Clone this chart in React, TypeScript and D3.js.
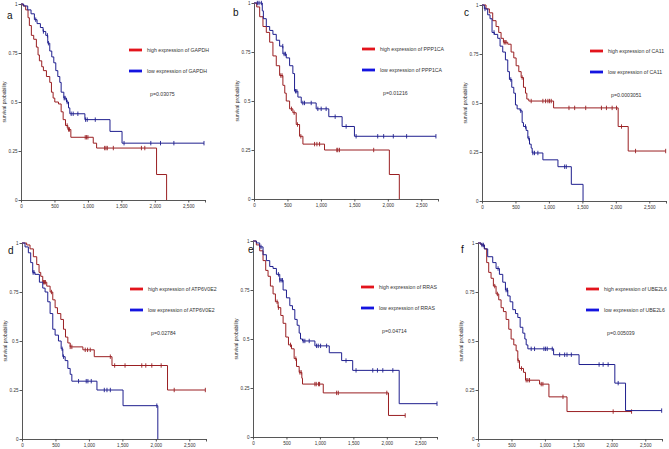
import React, { useEffect, useRef } from "react";
import * as d3 from "d3";

// Kaplan-Meier steps: [day, survival after the drop]
const gapdhHigh = [[30, 0.99], [70, 0.97], [105, 0.93], [125, 0.89], [155, 0.84], [190, 0.82], [230, 0.78], [255, 0.74], [275, 0.71], [310, 0.68], [335, 0.66], [380, 0.63], [430, 0.6], [455, 0.55], [480, 0.52], [505, 0.5], [560, 0.49], [600, 0.45], [630, 0.41], [665, 0.38], [700, 0.36], [745, 0.32], [1080, 0.29], [1130, 0.265], [2026, 0.13], [2176, 0]];
const gapdhHighCensor = [690, 710, 725, 960, 980, 1000, 1250, 1270, 1290, 1380, 1800, 1850];
const gapdhLow = [[40, 0.99], [100, 0.97], [150, 0.95], [200, 0.92], [240, 0.9], [290, 0.88], [330, 0.86], [370, 0.84], [400, 0.8], [430, 0.76], [460, 0.73], [490, 0.7], [520, 0.66], [550, 0.63], [580, 0.6], [600, 0.55], [640, 0.52], [680, 0.5], [710, 0.47], [730, 0.44], [955, 0.41], [1330, 0.35], [1510, 0.29]];
const gapdhLowCensor = [220, 335, 395, 410, 645, 660, 690, 750, 780, 850, 965, 990, 1110, 1540, 1940, 2085, 2285, 2735];

const ppp1caHigh = [[40, 0.98], [85, 0.93], [134, 0.88], [184, 0.85], [234, 0.8], [283, 0.73], [333, 0.68], [383, 0.63], [432, 0.58], [460, 0.54], [482, 0.5], [532, 0.46], [581, 0.44], [631, 0.38], [681, 0.32], [731, 0.28], [1054, 0.25], [2023, 0.125], [2172, 0]];
const ppp1caHighCensor = [400, 420, 560, 600, 650, 700, 905, 940, 980, 1238, 1252, 1277, 1789];
const ppp1caLow = [[124, 0.96], [140, 0.92], [184, 0.88], [234, 0.86], [283, 0.84], [333, 0.81], [383, 0.78], [432, 0.74], [482, 0.72], [532, 0.68], [581, 0.64], [606, 0.55], [656, 0.52], [706, 0.49], [929, 0.46], [1118, 0.42], [1317, 0.37], [1501, 0.32]];
const ppp1caLowCensor = [50, 75, 110, 430, 450, 470, 620, 640, 730, 755, 855, 954, 1004, 1078, 1213, 1377, 1526, 1849, 1938, 2082, 2281, 2719];

const ca11High = [[60, 0.98], [110, 0.96], [160, 0.92], [210, 0.89], [250, 0.86], [285, 0.83], [320, 0.81], [385, 0.8], [435, 0.76], [475, 0.73], [510, 0.69], [550, 0.66], [585, 0.63], [620, 0.58], [650, 0.55], [670, 0.52], [700, 0.51], [1070, 0.475], [2035, 0.38], [2185, 0.255]];
const ca11HighCensor = [330, 345, 360, 600, 735, 910, 950, 985, 1010, 1035, 1300, 1385, 1550, 1785, 1860, 1945, 2010, 2085, 2295, 2745];
const ca11Low = [[35, 0.98], [85, 0.95], [120, 0.93], [150, 0.86], [185, 0.85], [235, 0.83], [270, 0.79], [310, 0.76], [350, 0.72], [385, 0.66], [410, 0.62], [445, 0.58], [475, 0.55], [500, 0.49], [525, 0.47], [570, 0.46], [600, 0.4], [620, 0.38], [660, 0.36], [685, 0.32], [710, 0.29], [735, 0.27], [750, 0.245], [910, 0.21], [1135, 0.175], [1335, 0.085], [1510, 0]];
const ca11LowCensor = [45, 180, 430, 580, 650, 700, 760, 785, 835, 1235, 1260];

const atpHigh = [[70, 0.99], [120, 0.97], [170, 0.93], [220, 0.89], [255, 0.85], [280, 0.83], [310, 0.8], [370, 0.78], [420, 0.75], [460, 0.71], [495, 0.67], [530, 0.64], [580, 0.61], [620, 0.56], [650, 0.52], [685, 0.49], [720, 0.47], [910, 0.455], [1080, 0.42], [1345, 0.375], [2175, 0.25]];
const atpHighCensor = [320, 335, 350, 440, 720, 745, 945, 980, 1020, 1320, 1385, 1540, 1790, 1850, 1940, 2080, 2275, 2740];
const atpLow = [[45, 0.98], [95, 0.95], [130, 0.9], [160, 0.85], [195, 0.84], [260, 0.8], [310, 0.77], [345, 0.75], [385, 0.7], [420, 0.64], [460, 0.56], [495, 0.53], [545, 0.5], [585, 0.46], [610, 0.42], [645, 0.4], [685, 0.36], [720, 0.33], [745, 0.295], [1120, 0.25], [1510, 0.17], [2030, 0]];
const atpLowCensor = [165, 180, 600, 620, 845, 960, 985, 1035, 1230, 1270, 1320, 2015];

const rrasHigh = [[50, 0.98], [100, 0.95], [150, 0.9], [190, 0.85], [225, 0.82], [260, 0.77], [300, 0.73], [335, 0.69], [375, 0.66], [415, 0.62], [450, 0.58], [490, 0.51], [530, 0.47], [575, 0.45], [615, 0.4], [650, 0.36], [690, 0.33], [730, 0.3], [740, 0.27], [1050, 0.225], [2025, 0.11]];
const rrasHighCensor = [360, 380, 560, 640, 700, 720, 925, 945, 980, 995, 1250, 1275, 2000, 2275];
const rrasLow = [[50, 0.99], [100, 0.97], [150, 0.93], [200, 0.9], [250, 0.87], [300, 0.86], [350, 0.83], [400, 0.8], [450, 0.75], [500, 0.71], [550, 0.67], [590, 0.65], [625, 0.6], [660, 0.57], [690, 0.53], [710, 0.5], [740, 0.49], [925, 0.465], [1140, 0.43], [1325, 0.39], [1490, 0.34], [2185, 0.17]];
const rrasLowCensor = [120, 380, 400, 420, 440, 750, 775, 840, 950, 975, 1010, 1100, 1390, 1540, 1790, 1860, 1940, 2090, 2750];

const ube2l6High = [[45, 0.99], [95, 0.97], [130, 0.9], [160, 0.85], [195, 0.82], [230, 0.78], [270, 0.74], [310, 0.71], [345, 0.67], [380, 0.65], [420, 0.61], [460, 0.56], [495, 0.51], [535, 0.48], [570, 0.45], [595, 0.4], [620, 0.36], [680, 0.34], [710, 0.3], [920, 0.28], [1060, 0.215], [1330, 0.14]];
const ube2l6HighCensor = [250, 290, 600, 650, 720, 745, 770, 945, 970, 1270, 2020, 2295];
const ube2l6Low = [[45, 0.99], [95, 0.97], [145, 0.93], [220, 0.9], [270, 0.87], [320, 0.84], [370, 0.8], [410, 0.76], [445, 0.73], [480, 0.7], [520, 0.66], [560, 0.64], [595, 0.62], [630, 0.57], [670, 0.54], [700, 0.51], [720, 0.48], [745, 0.46], [1130, 0.43], [1510, 0.38], [2045, 0.285], [2205, 0.145]];
const ube2l6LowCensor = [60, 80, 300, 420, 440, 795, 845, 985, 1010, 1035, 1110, 1220, 1295, 1330, 1395, 1810, 1870, 1945, 2095, 2745];

const letters = ["a", "b", "c", "d", "e", "f"];
const genes = ["GAPDH", "PPP1CA", "CA11", "ATP6V0E2", "RRAS", "UBE2L6"];
const pValues = ["p=0.03075", "p=0.01216", "p=0.0003051", "p=0.02784", "p=0.04714", "p=0.005039"];
const xTicks = [0, 500, 1000, 1500, 2000, 2500, 2750];
const yTicks = [0, 0.25, 0.5, 0.75, 1];

const curves = [
  [gapdhHigh, gapdhHighCensor, gapdhLow, gapdhLowCensor],
  [ppp1caHigh, ppp1caHighCensor, ppp1caLow, ppp1caLowCensor],
  [ca11High, ca11HighCensor, ca11Low, ca11LowCensor],
  [atpHigh, atpHighCensor, atpLow, atpLowCensor],
  [rrasHigh, rrasHighCensor, rrasLow, rrasLowCensor],
  [ube2l6High, ube2l6HighCensor, ube2l6Low, ube2l6LowCensor],
];

// where each panel's y axis top sits, and the letter offset
const origins = [
  { x: 21, y: 4, lx: -14, ly: 15 },
  { x: 254, y: 3, lx: -21, ly: 13 },
  { x: 482, y: 5, lx: -18, ly: 11 },
  { x: 22, y: 243, lx: -14, ly: 11 },
  { x: 253, y: 241, lx: -5, ly: 12 },
  { x: 478, y: 243, lx: -17, ly: 10 },
];

const W = 184;
const H = 196;
const FONT = "'Liberation Sans', Arial, sans-serif";
const RED = "#9a1f22";
const BLUE = "#1f1f8e";

const survivalAt = (steps, t) => {
  let s = 1;
  steps.forEach(([tt, v]) => {
    if (tt <= t) s = v;
  });
  return s;
};

const App = () => {
  const ref = useRef(null);

  useEffect(() => {
    const svg = d3.select(ref.current);
    svg.selectAll("*").remove();

    const x = d3.scaleLinear().domain([0, 2750]).range([0, W]);
    const y = d3.scaleLinear().domain([0, 1]).range([H, 0]);

    origins.forEach((o, i) => {
      const g = svg.append("g").attr("transform", `translate(${o.x},${o.y})`);
      const [hi, hiC, lo, loC] = curves[i];

      // axes
      const xAxis = d3
        .axisBottom(x)
        .tickValues(xTicks)
        .tickSize(2.5)
        .tickSizeOuter(0)
        .tickFormat((d) => (d === 2750 ? "" : d3.format(",")(d)));
      const gx = g.append("g").attr("transform", `translate(0,${H})`).call(xAxis);
      const yAxis = d3
        .axisLeft(y)
        .tickValues(yTicks)
        .tickSize(2.5)
        .tickSizeOuter(0)
        .tickFormat((d) => String(d));
      const gy = g.append("g").call(yAxis);
      [gx, gy].forEach((a) => {
        a.select(".domain").attr("stroke", "#444").attr("stroke-width", 0.9);
        a.selectAll(".tick line").attr("stroke", "#444").attr("stroke-width", 0.9);
        a.selectAll(".tick text")
          .attr("font-family", FONT)
          .attr("font-size", 4.6)
          .attr("fill", "#333");
      });
      gx.selectAll(".tick text").attr("dy", "0.71em").attr("y", 4.5);
      gy.selectAll(".tick text").attr("x", -3.5);

      g.append("text")
        .attr("transform", `translate(-15,${H / 2}) rotate(-90)`)
        .attr("text-anchor", "middle")
        .attr("font-family", FONT)
        .attr("font-size", 5)
        .attr("fill", "#333")
        .text("survival probability");

      g.append("text")
        .attr("x", o.lx)
        .attr("y", o.ly)
        .attr("font-family", FONT)
        .attr("font-size", 10)
        .attr("fill", "#111")
        .text(letters[i]);

      // curves
      [
        [hi, hiC, RED],
        [lo, loC, BLUE],
      ].forEach(([steps, censor, color]) => {
        let d = `M${x(0)},${y(1)}`;
        let prev = 1;
        steps.forEach(([t, v]) => {
          d += `H${x(t)}V${y(v)}`;
          prev = v;
        });
        const lastStep = steps[steps.length - 1][0];
        const end = Math.max(lastStep, d3.max(censor));
        if (prev > 0) d += `H${x(end)}`;
        g.append("path")
          .attr("d", d)
          .attr("fill", "none")
          .attr("stroke", color)
          .attr("stroke-width", 1);
        g.selectAll(null)
          .data(censor)
          .enter()
          .append("line")
          .attr("x1", (t) => x(t))
          .attr("x2", (t) => x(t))
          .attr("y1", (t) => y(survivalAt(steps, t)) - 2.2)
          .attr("y2", (t) => y(survivalAt(steps, t)) + 2.2)
          .attr("stroke", color)
          .attr("stroke-width", 0.9);
      });

      // legend
      const leg = g.append("g").attr("transform", "translate(108,0)");
      [
        ["#e3141c", `high expression of ${genes[i]}`, 46],
        ["#1414e0", `low expression of ${genes[i]}`, 67],
      ].forEach(([c, label, ly]) => {
        leg.append("line")
          .attr("x1", 0)
          .attr("x2", 13)
          .attr("y1", ly)
          .attr("y2", ly)
          .attr("stroke", c)
          .attr("stroke-width", 2.8);
        leg.append("text")
          .attr("x", 18)
          .attr("y", ly)
          .attr("dy", "0.35em")
          .attr("font-family", FONT)
          .attr("font-size", 5.2)
          .attr("fill", "#333")
          .text(label);
      });
      leg.append("text")
        .attr("x", 21)
        .attr("y", 90)
        .attr("dy", "0.35em")
        .attr("font-family", FONT)
        .attr("font-size", 5.2)
        .attr("fill", "#333")
        .text(pValues[i]);
    });
  }, []);

  return (
    <svg
      ref={ref}
      width={669}
      height={449}
      style={{ position: "absolute", left: 0, top: 0, background: "#fff" }}
    ></svg>
  );
};

export default App;
